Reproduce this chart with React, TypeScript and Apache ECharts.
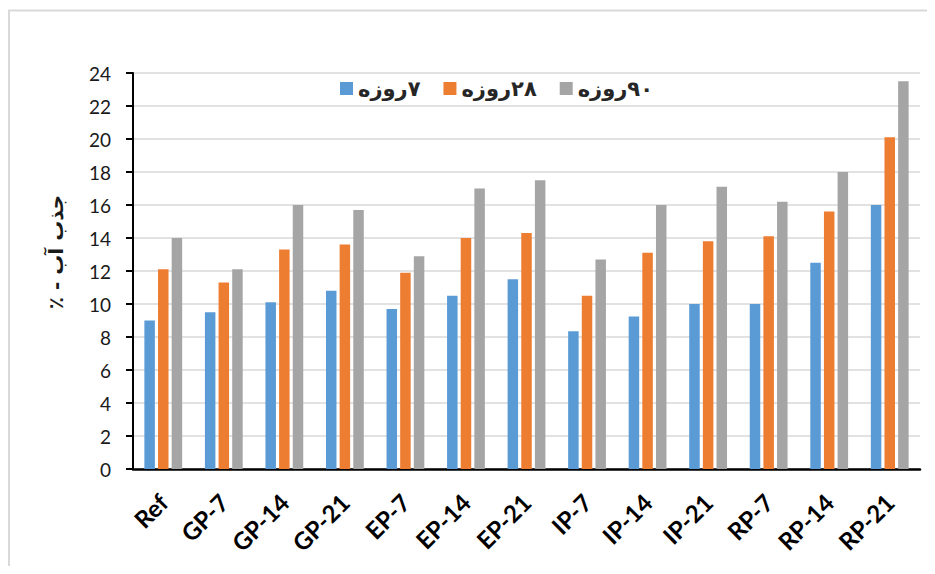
import React, { useEffect, useRef } from "react";
import * as echarts from "echarts";

// Mix designs (x categories)
const categories = [
  "Ref", "GP-7", "GP-14", "GP-21", "EP-7", "EP-14", "EP-21",
  "IP-7", "IP-14", "IP-21", "RP-7", "RP-14", "RP-21",
];

// Water absorption (%) at each curing age
const day7 = [9.0, 9.5, 10.1, 10.8, 9.7, 10.5, 11.5, 8.35, 9.25, 10.0, 10.0, 12.5, 16.0];
const day28 = [12.1, 11.3, 13.3, 13.6, 11.9, 14.0, 14.3, 10.5, 13.1, 13.8, 14.1, 15.6, 20.1];
const day90 = [14.0, 12.1, 16.0, 15.7, 12.9, 17.0, 17.5, 12.7, 16.0, 17.1, 16.2, 18.0, 23.5];

// Series names (Persian, wrapped in an RTL embedding so they read right-to-left)
const RLE = "\u202B";
const PDF = "\u202C";
const seriesNames = [`${RLE}۷روزه${PDF}`, `${RLE}۲۸روزه${PDF}`, `${RLE}۹۰روزه${PDF}`];
const yTitle = `${RLE}جذب آب - ٪${PDF}`;

const colors = ["#5b9bd5", "#ed7d31", "#a5a5a5"];

export default function App() {
  const ref = useRef<HTMLDivElement>(null);

  useEffect(() => {
    if (!ref.current) return;
    const chart = echarts.init(ref.current, undefined, { renderer: "svg" });
    const values = [day7, day28, day90];

    chart.setOption({
      animation: false,
      backgroundColor: "#ffffff",
      grid: { left: 125, right: 7, top: 65, bottom: 97, containLabel: false },
      legend: {
        left: 327,
        top: 65,
        icon: "rect",
        itemWidth: 13,
        itemHeight: 13,
        itemGap: 23,
        textStyle: {
          fontFamily: "DejaVu Sans",
          fontSize: 21,
          fontWeight: "bold",
          color: "#262626",
        },
        data: seriesNames,
      },
      xAxis: {
        type: "category",
        data: categories,
        axisLine: { lineStyle: { color: "#000000", width: 2.5 } },
        axisTick: { show: false },
        axisLabel: {
          rotate: 45,
          margin: 29,
          fontFamily: "Lato",
          fontSize: 24,
          fontWeight: "bold",
          color: "#000000",
        },
      },
      yAxis: {
        type: "value",
        min: 0,
        max: 24,
        interval: 2,
        axisLine: { show: true, lineStyle: { color: "#000000", width: 2 } },
        axisTick: { show: true, length: 7, lineStyle: { color: "#000000", width: 2 } },
        axisLabel: {
          margin: 22,
          fontFamily: "Lato",
          fontSize: 19,
          color: "#1a1a1a",
        },
        splitLine: { lineStyle: { color: "#d9d9d9", width: 1.5 } },
      },
      graphic: [
        {
          type: "polyline",
          silent: true,
          shape: { points: [[1, 558], [1, 2.5], [919, 2.5]] },
          style: { stroke: "#d9d9d9", lineWidth: 2, fill: "none" },
        },
        {
          type: "text",
          x: 48,
          y: 244,
          rotation: Math.PI / 2,
          style: {
            text: yTitle,
            fontFamily: "DejaVu Sans",
            fontSize: 20,
            fontWeight: "bold",
            fill: "#1a1a1a",
            align: "center",
            verticalAlign: "middle",
          },
        },
      ],
      series: seriesNames.map((name, i) => ({
        name,
        type: "bar",
        data: values[i],
        barWidth: 10.5,
        barGap: "30%",
        itemStyle: { color: colors[i] },
      })),
    });

    return () => chart.dispose();
  }, []);

  return <div ref={ref} style={{ width: 919, height: 558 }} />;
}
